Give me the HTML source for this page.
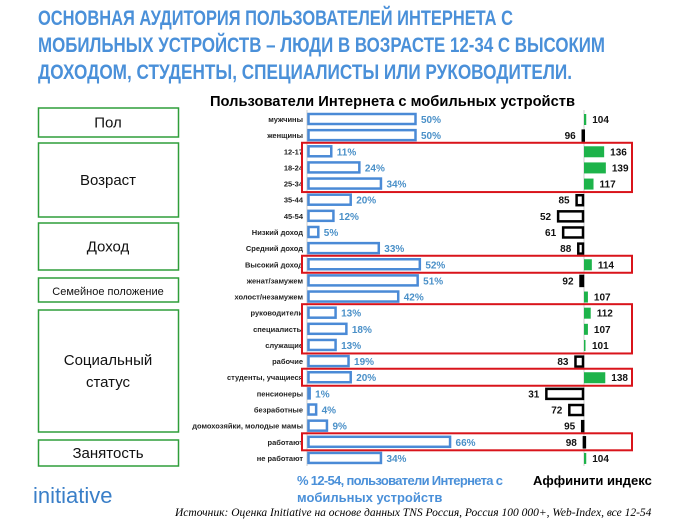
<!DOCTYPE html>
<html><head><meta charset="utf-8"><style>
body{margin:0;background:#fff;width:700px;height:523px;overflow:hidden;font-family:"Liberation Sans",sans-serif}
svg{display:block}
</style></head><body>
<svg id="c" width="700" height="523" xmlns="http://www.w3.org/2000/svg">
<g font-family="Liberation Sans, sans-serif" font-weight="bold" fill="#4a90d9" font-size="21">
<text x="38" y="25" textLength="475" lengthAdjust="spacingAndGlyphs">ОСНОВНАЯ АУДИТОРИЯ ПОЛЬЗОВАТЕЛЕЙ ИНТЕРНЕТА С</text>
<text x="38" y="52" textLength="567" lengthAdjust="spacingAndGlyphs">МОБИЛЬНЫХ УСТРОЙСТВ – ЛЮДИ В ВОЗРАСТЕ 12-34 С ВЫСОКИМ</text>
<text x="38" y="79" textLength="534" lengthAdjust="spacingAndGlyphs">ДОХОДОМ, СТУДЕНТЫ, СПЕЦИАЛИСТЫ ИЛИ РУКОВОДИТЕЛИ.</text>
</g>
<text x="210" y="106" font-size="15" font-weight="bold" fill="#000" textLength="365" lengthAdjust="spacingAndGlyphs">Пользователи Интернета с мобильных устройств</text>
<g id="groups"></g>
<g id="bars"></g>
<g id="red"></g>
<text x="297" y="485" font-size="13" font-weight="bold" fill="#4a90d9" textLength="206" lengthAdjust="spacing">% 12-54, пользователи  Интернета  с</text>
<text x="297" y="502" font-size="13" font-weight="bold" fill="#4a90d9">мобильных устройств</text>
<text x="533" y="485" font-size="13" font-weight="bold" fill="#000">Аффинити индекс</text>
<text x="33" y="503" font-size="22" fill="#3a7fc8">initiative</text>
<text x="175" y="516" font-size="11.5" font-style="italic" font-family="Liberation Serif, serif" fill="#000">Источник: Оценка Initiative на основе данных TNS Россия, Россия 100 000+, Web-Index, все 12-54</text>
</svg>
<script>
const categories=["мужчины","женщины","12-17","18-24","25-34","35-44","45-54","Низкий доход","Средний доход","Высокий доход","женат/замужем","холост/незамужем","руководители","специалисты","служащие","рабочие","студенты, учащиеся","пенсионеры","безработные","домохозяйки, молодые мамы","работают","не работают"];
const shares=[50,50,11,24,34,20,12,5,33,52,51,42,13,18,13,19,20,1,4,9,66,34];
const affinity=[104,96,136,139,117,85,52,61,88,114,92,107,112,107,101,83,138,31,72,95,98,104];
const groupLabels=["Пол","Возраст","Доход","Семейное положение","Социальный статус","Занятость"];
const groupBoxes=[[108,137],[143,217],[223,270],[278,302],[310,432],[440,466]];
const highlights=[[2,4],[9,9],[12,14],[16,16],[20,20]];

const NS="http://www.w3.org/2000/svg";
function mk(t,a,p){const e=document.createElementNS(NS,t);for(const k in a)e.setAttribute(k,a[k]);p.appendChild(e);return e;}
const y0=119, step=16.14;
const yRow=i=>y0+i*step;
const xPct=v=>307+v*2.16;
const xIdx=v=>584+(v-100)*0.56;
const bars=document.getElementById('bars');
mk('line',{x1:307,y1:110,x2:307,y2:466,stroke:'#ccc','stroke-width':1},bars);
mk('line',{x1:584,y1:110,x2:584,y2:466,stroke:'#ccc','stroke-width':1},bars);
categories.forEach((c,i)=>{
  const y=yRow(i);
  const t=mk('text',{x:303,y:y+3,'font-size':7.5,'font-weight':'bold','text-anchor':'end',fill:'#222'},bars);
  t.textContent=c;
  
  
  const w=Math.max(xPct(shares[i])-308,1);
  const r=mk('rect',{x:308.5,y:y-5,width:w,height:10,fill:'#fff',stroke:'#4a8ad6','stroke-width':2.5},bars);
  
  
  const l=mk('text',{x:xPct(shares[i])+6,y:y+4,'font-size':10,'font-weight':'bold',fill:'#4a90c8'},bars);
  l.textContent=shares[i]+'%';
  
  
  const v=affinity[i];
  let ir;
  if(v>=100){
    ir=mk('rect',{x:584,y:y-5,width:Math.max(xIdx(v)-584,1.5),height:11,fill:'#1db34a'},bars);
    const tl=mk('text',{x:Math.max(xIdx(v),586)+6,y:y+4,'font-size':10,'font-weight':'bold',fill:'#111'},bars);
    tl.textContent=v;
    
    
  } else {
    const x=xIdx(v);
    ir=mk('rect',{x:x+1,y:y-4.5,width:Math.max(584-x-2,1),height:10,fill:'#fff',stroke:'#000','stroke-width':2.5},bars);
    const tl=mk('text',{x:x-6,y:y+4,'font-size':10,'font-weight':'bold',fill:'#111','text-anchor':'end'},bars);
    tl.textContent=v;
    
    
  }
  
  
});
const groups=document.getElementById('groups');
const gFs=[15,15,15,11,15,15];
groupBoxes.forEach((g,i)=>{
  const top=g[0], bot=g[1];
  const r=mk('rect',{x:38.5,y:top,width:140,height:bot-top,fill:'#fff',stroke:'#2f9e3a','stroke-width':1.5},groups);
  
  
  const words=groupLabels[i]==="Социальный статус"?["Социальный","статус"]:[groupLabels[i]];
  words.forEach((w,k)=>{
    const t=mk('text',{x:108,y:(top+bot)/2+5+(k-(words.length-1)/2)*22,'font-size':gFs[i],'text-anchor':'middle',fill:'#111'},groups);
    t.textContent=w;
    
    
  });
});
const red=document.getElementById('red');
highlights.forEach(h=>{
  const top=yRow(h[0])-8.5, bot=yRow(h[1])+8.5;
  const r=mk('rect',{x:302,y:top,width:330,height:bot-top,fill:'none',stroke:'#d9141b','stroke-width':2},red);
  
  
});
</script>
</body></html>
